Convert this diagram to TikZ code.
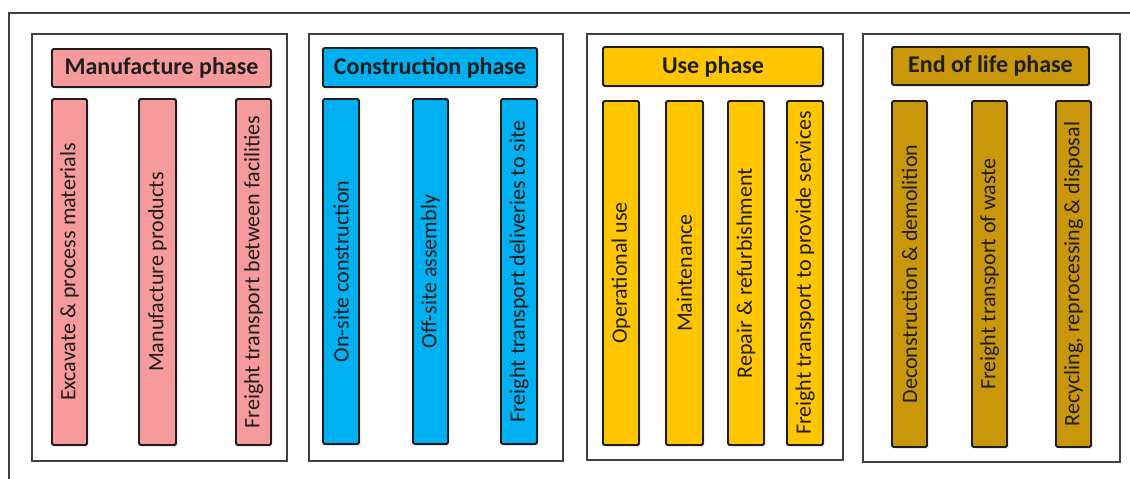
\documentclass[tikz,border=0pt]{standalone}
\usepackage{fontspec}
\setmainfont{Carlito}
\usetikzlibrary{shadows}
\definecolor{cpink}{HTML}{F69A9B}
\definecolor{cblue}{HTML}{00B0F0}
\definecolor{cyel}{HTML}{FFC600}
\definecolor{cbrown}{HTML}{C99709}
\definecolor{ink}{HTML}{1E1E1E}
\tikzset{
  frame/.style={draw=ink!85, line width=1.4pt},
  panel/.style={draw=ink!85, line width=1.5pt, fill=white},
  boxbase/.style={draw=ink, line width=1.8pt, rounded corners=1.5pt, inner sep=0pt, text=ink,
    drop shadow={opacity=0.25, shadow xshift=1.5pt, shadow yshift=-1.5pt}},
  title/.style={boxbase, font=\fontsize{24}{28}\selectfont\bfseries},
  bar/.style={boxbase, rotate=90, font=\fontsize{22}{26}\selectfont},
}
\begin{document}
\begin{tikzpicture}[x=1pt,y=-1pt]
\useasboundingbox (0,0) rectangle (1130,479);
\fill[white] (0,0) rectangle (1130,479);
\coordinate (ftl) at (9,13);
\coordinate (ftr) at (1131,13);
\coordinate (fbl) at (9,480);
\draw[frame] (ftr) -- (ftl) -- (fbl);
% panels
\draw[panel] (32,34) rectangle (287,461);
\draw[panel] (309,34) rectangle (563,461);
\draw[panel] (587,34) rectangle (843,460);
\draw[panel] (863,34) rectangle (1120,462);
% titles
\node[title, fill=cpink, minimum width=219pt, minimum height=38pt] (t1) at (161.5,68) {Manufacture phase};
\node[title, fill=cblue, minimum width=214pt, minimum height=39pt] (t2) at (430,67.5) {Construction phase};
\node[title, fill=cyel, minimum width=220pt, minimum height=39pt] (t3) at (713,66.5) {Use phase};
\node[title, fill=cbrown, minimum width=197pt, minimum height=38pt] (t4) at (990.5,66) {End of life phase};
% manufacture bars
\node[bar, fill=cpink, minimum width=346pt, minimum height=35pt] (m1) at (69.5,272) {Excavate \& process materials};
\node[bar, fill=cpink, minimum width=346pt, minimum height=37pt] (m2) at (157.5,272) {Manufacture products};
\node[bar, fill=cpink, minimum width=346pt, minimum height=35pt] (m3) at (253.5,272) {Freight transport between facilities};
% construction bars
\node[bar, fill=cblue, minimum width=345pt, minimum height=36pt] (c1) at (341,271.5) {On-site construction};
\node[bar, fill=cblue, minimum width=345pt, minimum height=35pt] (c2) at (430.5,271.5) {Off-site assembly};
\node[bar, fill=cblue, minimum width=345pt, minimum height=36pt] (c3) at (519,271.5) {Freight transport deliveries to site};
% use bars
\node[bar, fill=cyel, minimum width=344pt, minimum height=36pt] (u1) at (621,273) {Operational use};
\node[bar, fill=cyel, minimum width=344pt, minimum height=37pt] (u2) at (684.5,273) {Maintenance};
\node[bar, fill=cyel, minimum width=344pt, minimum height=36pt] (u3) at (746,273) {Repair \& refurbishment};
\node[bar, fill=cyel, minimum width=344pt, minimum height=36pt] (u4) at (805,273) {Freight transport to provide services};
% end of life bars
\node[bar, fill=cbrown, minimum width=346pt, minimum height=35pt] (e1) at (909.5,274) {Deconstruction \& demolition};
\node[bar, fill=cbrown, minimum width=346pt, minimum height=35pt] (e2) at (989.5,274) {Freight transport of waste};
\node[bar, fill=cbrown, minimum width=346pt, minimum height=35pt] (e3) at (1073.5,274) {Recycling, reprocessing \& disposal};
\end{tikzpicture}
\end{document}
